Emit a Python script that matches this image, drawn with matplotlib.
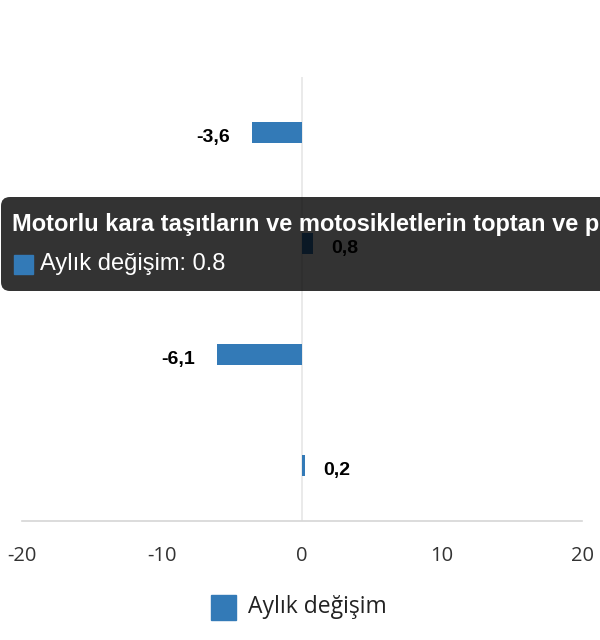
"""Monthly change bar chart with a hover tooltip frozen in place."""

import matplotlib

matplotlib.use("Agg")
import matplotlib.pyplot as plt
from matplotlib.patches import FancyBboxPatch, Rectangle
from matplotlib.transforms import IdentityTransform

# --- data -----------------------------------------------------------------
series_name = "Aylık değişim"
values = [-3.6, 0.8, -6.1, 0.2]
value_labels = ["-3,6", "0,8", "-6,1", "0,2"]
x_ticks = [-20, -10, 0, 10, 20]
tooltip_title = "Motorlu kara taşıtların ve motosikletlerin toptan ve p"
tooltip_value = "Aylık değişim: 0.8"

BAR_COLOR = "#337ab7"
W, H = 600, 640


def px_y(y_top):
    # pixel measured from top -> display coords (from bottom)
    return H - y_top


fig = plt.figure(figsize=(W / 100, H / 100), dpi=100)
ax = fig.add_axes([22 / W, 1 - 521 / H, 560 / W, 444 / H])

pos = list(range(len(values)))
ax.barh(pos, values, height=0.19, color=BAR_COLOR, zorder=3)

ax.set_xlim(-20, 20)
ax.set_ylim(len(values) - 0.5, -0.5)
ax.set_xticks(x_ticks)
ax.set_xticklabels([str(t) for t in x_ticks], fontsize=14.5, color="#333333",
                   fontfamily="Open Sans")
ax.tick_params(axis="x", length=0, pad=18)
ax.set_yticks([])
ax.axvline(0, color="#e6e6e6", lw=1.2, zorder=1)
for side in ("top", "right", "left"):
    ax.spines[side].set_visible(False)
ax.spines["bottom"].set_color("#d6d6d6")
ax.spines["bottom"].set_linewidth(1.2)

for p, v, lab in zip(pos, values, value_labels):
    off = 18 if v >= 0 else -22
    ax.annotate(lab, xy=(v, p), xytext=(off, -5), textcoords="offset pixels",
                ha="left" if v >= 0 else "right", va="center",
                fontsize=14, fontweight="bold", color="black",
                fontfamily="Liberation Sans", zorder=4)

# legend
fig.patches.append(Rectangle((211, px_y(620)), 25, 25, color=BAR_COLOR,
                             transform=IdentityTransform(), figure=fig))
fig.text(248 / W, 1 - 607 / H, series_name, fontsize=16.5, color="#222222",
         va="center", ha="left", fontfamily="Open Sans")

# tooltip overlay
tip = FancyBboxPatch((1, px_y(291)), 640, 94,
                     boxstyle="round,pad=0,rounding_size=9",
                     facecolor=(0, 0, 0, 0.8), edgecolor="none",
                     transform=IdentityTransform(), figure=fig, zorder=10)
fig.patches.append(tip)
fig.text(12 / W, 1 - 225 / H, tooltip_title, fontsize=17, fontweight="bold",
         color="white", va="center", ha="left",
         fontfamily="Liberation Sans", zorder=11)
fig.patches.append(Rectangle((14, px_y(274)), 19, 19, color=BAR_COLOR,
                             transform=IdentityTransform(), figure=fig,
                             zorder=11))
fig.text(40 / W, 1 - 264 / H, tooltip_value, fontsize=17, color="white",
         va="center", ha="left", fontfamily="Liberation Sans", zorder=11)

fig.savefig("out.png", dpi=100)
